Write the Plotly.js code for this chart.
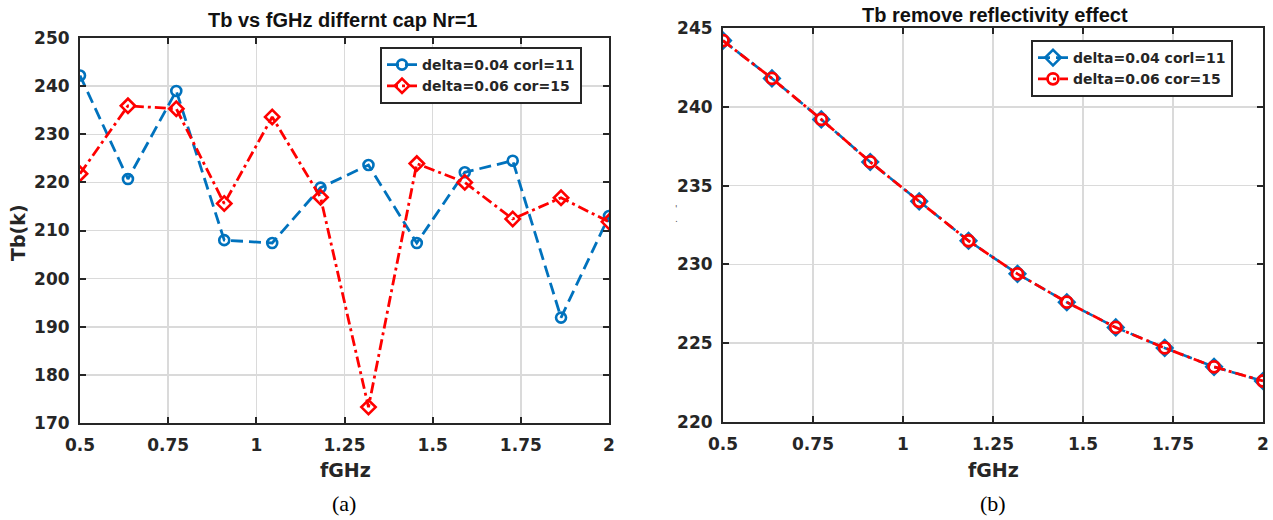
<!DOCTYPE html>
<html>
<head>
<meta charset="utf-8">
<script src="https://cdn.plot.ly/plotly-3.0.1.min.js"></script>
<style>
  html, body { margin: 0; padding: 0; background: #fff; }
  #chart { width: 1273px; height: 520px; }
</style>
</head>
<body>
<div id="chart"></div>
<script>
// ---- data ----
const fGHz = [0.5, 0.636, 0.773, 0.909, 1.045, 1.182, 1.318, 1.455, 1.591, 1.727, 1.864, 2.0];
const tbA_delta004 = [242.2, 220.7, 239.0, 208.0, 207.4, 218.9, 223.6, 207.4, 222.1, 224.5, 191.9, 213.0];
const tbA_delta006 = [221.8, 235.9, 235.3, 215.6, 233.6, 216.9, 173.3, 223.9, 220.0, 212.4, 216.8, 211.8];
const tbB_delta004 = [244.2, 241.8, 239.2, 236.5, 234.0, 231.5, 229.4, 227.6, 226.0, 224.7, 223.5, 222.6];
const tbB_delta006 = [244.2, 241.8, 239.2, 236.5, 234.0, 231.5, 229.4, 227.6, 226.0, 224.7, 223.5, 222.6];
const xTickVals = [0.5, 0.75, 1, 1.25, 1.5, 1.75, 2];
const xTickText = ['0.5', '0.75', '1', '1.25', '1.5', '1.75', '2'];
const yTickValsA = [170, 180, 190, 200, 210, 220, 230, 240, 250];
const yTickValsB = [220, 225, 230, 235, 240, 245];
const seriesNames = ['delta=0.04 corl=11', 'delta=0.06 cor=15'];
const titles = ['Tb vs fGHz differnt cap Nr=1', 'Tb remove reflectivity effect'];

const W = 1273, H = 520;
const BLUE = '#0072BD', RED = '#FF0000', INK = '#262626';
const FONT = 'DejaVu Sans, Verdana, sans-serif';
const SANS = 'Liberation Sans, Arial, sans-serif';
const px = v => v / W;
const py = v => 1 - v / H;

const traces = [
  { x: fGHz, y: tbA_delta004, name: seriesNames[0], xaxis: 'x', yaxis: 'y', legend: 'legend',
    mode: 'lines+markers', line: { color: BLUE, width: 2.8, dash: '12px,6px' },
    marker: { symbol: 'circle-open', size: 10, color: BLUE, line: { width: 2.6, color: BLUE } } },
  { x: fGHz, y: tbA_delta006, name: seriesNames[1], xaxis: 'x', yaxis: 'y', legend: 'legend',
    mode: 'lines+markers', line: { color: RED, width: 2.8, dash: '11px,4px,3px,4px' },
    marker: { symbol: 'diamond-open', size: 11, color: RED, line: { width: 2.6, color: RED } } },
  { x: fGHz, y: tbB_delta004, name: seriesNames[0], xaxis: 'x2', yaxis: 'y2', legend: 'legend2',
    mode: 'lines+markers', line: { color: BLUE, width: 2.6, dash: '12px,6px' },
    marker: { symbol: 'diamond-open', size: 12, color: BLUE, line: { width: 2.5, color: BLUE } } },
  { x: fGHz, y: tbB_delta006, name: seriesNames[1], xaxis: 'x2', yaxis: 'y2', legend: 'legend2',
    mode: 'lines+markers', line: { color: RED, width: 2.8, dash: '11px,4px,3px,4px' },
    marker: { symbol: 'circle-open', size: 11, color: RED, line: { width: 2.8, color: RED } } }
];

function xAxis(domain) {
  return {
    domain: domain, range: [0.5, 2], tickvals: xTickVals, ticktext: xTickText,
    showgrid: true, gridcolor: '#dadada', gridwidth: 1.5, zeroline: false,
    showline: true, linecolor: INK, linewidth: 2, mirror: 'ticks',
    ticks: 'inside', ticklen: 6, tickwidth: 2, tickcolor: INK, ticklabelstandoff: 6,
    tickfont: { family: FONT, size: 17, color: INK, weight: 'bold' }
  };
}
function yAxis(domain, range, vals) {
  return {
    domain: domain, range: range, tickvals: vals,
    showgrid: true, gridcolor: '#dadada', gridwidth: 1.5, zeroline: false,
    showline: true, linecolor: INK, linewidth: 2, mirror: 'ticks',
    ticks: 'inside', ticklen: 6, tickwidth: 2, tickcolor: INK, ticklabelstandoff: 5,
    tickfont: { family: FONT, size: 17, color: INK, weight: 'bold' }
  };
}
function legendBox(x, y) {
  return {
    x: x, y: y, xanchor: 'left', yanchor: 'top',
    bgcolor: '#ffffff', bordercolor: INK, borderwidth: 2,
    font: { family: FONT, size: 14, color: INK, weight: 'bold' },
    tracegroupgap: 0
  };
}
function txt(x, y, text, size, opts) {
  return Object.assign({
    xref: 'paper', yref: 'paper', x: px(x), y: py(y), text: text, showarrow: false,
    xanchor: 'center', yanchor: 'middle',
    font: { family: FONT, size: size, color: '#000', weight: 'bold' }
  }, opts || {});
}

const layout = {
  width: W, height: H, margin: { l: 0, r: 0, t: 0, b: 0 },
  paper_bgcolor: '#fff', plot_bgcolor: '#fff', showlegend: true,
  xaxis: xAxis([px(80), px(609)]),
  yaxis: yAxis([1 - 423 / H, 1 - 38 / H], [170, 250], yTickValsA),
  xaxis2: Object.assign(xAxis([px(723), px(1263)]), { anchor: 'y2' }),
  yaxis2: Object.assign(yAxis([1 - 422 / H, 1 - 28 / H], [220, 245], yTickValsB), { anchor: 'x2' }),
  legend: legendBox(px(380), py(47)),
  legend2: legendBox(px(1031), py(40)),
  annotations: [
    txt(343, 20, titles[0], 20, { font: { family: SANS, size: 20, color: '#111', weight: 'bold' } }),
    txt(995, 15, titles[1], 20, { font: { family: SANS, size: 20, color: '#111', weight: 'bold' } }),
    txt(345, 470, 'fGHz', 19, { font: { family: FONT, size: 19, color: INK, weight: 'bold' } }),
    txt(993, 470, 'fGHz', 19, { font: { family: FONT, size: 19, color: INK, weight: 'bold' } }),
    txt(18, 233, 'Tb(k)', 19, { textangle: -90, font: { family: FONT, size: 19, color: INK, weight: 'bold' } }),
    txt(344, 503, '(a)', 22, { font: { family: 'Liberation Serif, Times New Roman, serif', size: 22, color: '#000' } }),
    txt(993, 503, '(b)', 22, { font: { family: 'Liberation Serif, Times New Roman, serif', size: 22, color: '#000' } }),
    txt(676, 209, "'", 9, { font: { family: FONT, size: 9, color: '#555' } }),
    txt(676, 219, '.', 9, { font: { family: FONT, size: 9, color: '#555' } })
  ]
};

Plotly.newPlot('chart', traces, layout, { staticPlot: true, displayModeBar: false });
</script>
</body>
</html>
